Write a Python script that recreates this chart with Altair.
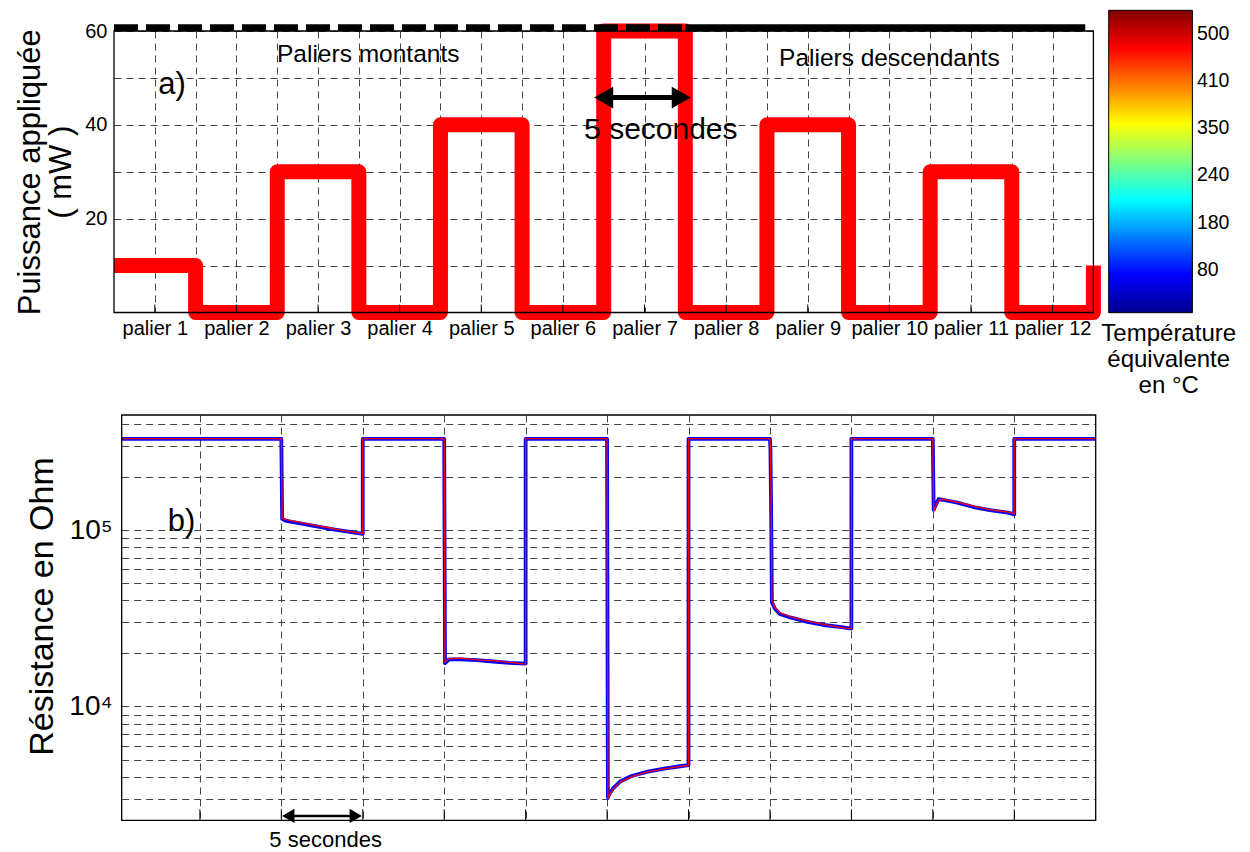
import altair as alt
import pandas as pd

FONT = "Liberation Sans"

# ---------------- data : panel a) ----------------
palier_labels = ["palier 1", "palier 2", "palier 3", "palier 4", "palier 5", "palier 6",
                 "palier 7", "palier 8", "palier 9", "palier 10", "palier 11", "palier 12"]
palier_power_mw = [10, 0, 30, 0, 40, 0, 60, 0, 40, 0, 30, 0]
final_power_mw = 10
palier_centers = [0.5, 1.5, 2.5, 3.5, 4.5, 5.5, 6.5, 7.5, 8.5, 9.5, 10.5, 11.5]
palier_grid = [0.5, 1, 1.5, 2, 2.5, 3, 3.5, 4, 4.5, 5, 5.5, 6, 6.5, 7, 7.5, 8, 8.5,
               9, 9.5, 10, 10.5, 11, 11.5]
power_grid = [10, 20, 30, 40, 50, 60]
power_labelled = [20, 40, 60]
top_xlim = [0, 12]
top_ylim = [0, 60]
cap_level_mw = 60.7
cap_dashed_span = [0, 7]
cap_solid_span = [7, 11.9]

# colour bar (jet) : positions in mW-equivalent, labels in degC
cbar_span = [0.8, 64.9]
cbar_tick_pos = [10, 20, 30, 40, 50, 60]
cbar_tick_labels = ["80", "180", "240", "350", "410", "500"]
jet_offsets = [0.0, 0.125, 0.375, 0.625, 0.875, 1.0]
jet_colors = ["#00008f", "#0000ff", "#00ffff", "#ffff00", "#ff0000", "#800000"]

# ---------------- data : panel b) ----------------
time_s = [0.2, 10.0, 10.05, 10.3, 11.0, 12.0, 13.0, 14.0, 15.0,
          15.0, 20.0, 20.05, 20.3, 21.0, 22.0, 23.0, 24.0, 25.0,
          25.0, 30.0, 30.05, 30.15, 30.4, 30.8, 31.5, 32.5, 33.5, 34.5, 35.0,
          35.0, 40.0, 40.03, 40.08, 40.12, 40.3, 40.6, 41.3, 42.3, 43.3, 44.4, 45.0,
          45.0, 50.0, 50.05, 50.35, 50.6, 51.5, 52.5, 53.5, 54.6, 55.0,
          55.0, 60.0]
r_blue = [330000, 330000, 116000, 113000, 110000, 106000, 102000, 98500, 95500,
          330000, 330000, 17600, 18500, 18500, 18350, 18000, 17700, 17500,
          330000, 330000, 3050, 3200, 3450, 3750, 4030, 4270, 4440, 4580, 4650,
          330000, 330000, 290000, 110000, 39000, 36000, 33500, 31900, 30200, 29000, 28200, 27700,
          330000, 330000, 131000, 150000, 149000, 143500, 135500, 130000, 126000, 123000,
          330000, 330000]
r_red = [331000, 331000, 118000, 115000, 111500, 107000, 103000, 99000, 96000,
         331000, 331000, 17800, 18700, 18800, 18400, 18200, 17800, 17400,
         331000, 331000, 3000, 3150, 3420, 3720, 4000, 4250, 4420, 4570, 4640,
         331000, 331000, 300000, 118000, 40000, 36500, 34000, 32300, 30500, 29200, 28000, 27600,
         331000, 331000, 129000, 148000, 150000, 144500, 137000, 131000, 127000, 124000,
         331000, 331000]
time_lim = [0.2, 60]
r_lim = [2260, 451000]
time_grid = [5, 10, 15, 20, 25, 30, 35, 40, 45, 50, 55]
r_grid = [3000, 4000, 5000, 6000, 7000, 8000, 9000,
          10000, 20000, 30000, 40000, 50000, 60000, 70000, 80000, 90000,
          100000, 200000, 300000, 400000]
r_labelled = {10000: "10⁴", 100000: "10⁵"}

# ---------------- panel a) ----------------
W1, H1 = 979.4, 281.5
GRID = dict(grid=True, gridDash=[7, 5], gridColor="#444", gridWidth=1)

step_x, step_p = [], []
for i, p in enumerate(palier_power_mw):
    step_x += [i, i + 1]
    step_p += [p, p]
step_x.append(len(palier_power_mw))
step_p.append(final_power_mw)
step_df = pd.DataFrame({"i": list(range(len(step_x))), "x": step_x, "p": step_p})

palier_expr = " : ".join(f"datum.value == {c} ? '{lab}'" for c, lab in zip(palier_centers, palier_labels)) + " : ''"
power_expr = " : ".join(f"datum.value == {v} ? '{v}'" for v in power_labelled) + " : ''"

xs1 = alt.Scale(domain=top_xlim, nice=False, zero=False)
ys1 = alt.Scale(domain=top_ylim, nice=False, zero=False)
xax1 = alt.Axis(values=palier_grid, ticks=False, domain=False, labelExpr=palier_expr,
                labelFontSize=20, labelPadding=6, labelAngle=0, labelOverlap=False,
                labelFlush=False, title=None, **GRID)
yax1 = alt.Axis(values=power_grid, ticks=False, domain=False, labelExpr=power_expr,
                labelFontSize=20, labelPadding=7, labelOverlap=False,
                title=["Puissance appliquée", "( mW )"], titleFontSize=31,
                titleLineHeight=31, titlePadding=7, **GRID)


def X1(field=None, datum=None):
    if datum is not None:
        return alt.X(datum=datum, type="quantitative", scale=xs1, axis=xax1)
    return alt.X(field, type="quantitative", scale=xs1, axis=xax1)


def Y1(field=None, datum=None):
    if datum is not None:
        return alt.Y(datum=datum, type="quantitative", scale=ys1, axis=yax1)
    return alt.Y(field, type="quantitative", scale=ys1, axis=yax1)


one = pd.DataFrame({"k": [0]})

steps = alt.Chart(step_df).mark_line(color="#ff0000", strokeWidth=15, strokeJoin="round",
                                     strokeCap="butt").encode(x=X1("x"), y=Y1("p"), order="i:Q")

cap_dashed = alt.Chart(pd.DataFrame({"x": [cap_dashed_span[0]], "x2": [cap_dashed_span[1]],
                                     "p": [cap_level_mw]})).mark_rule(
    color="black", strokeWidth=7, strokeDash=[24, 8], strokeCap="butt").encode(
    x=X1("x"), x2="x2:Q", y=Y1("p"))
cap_solid = alt.Chart(pd.DataFrame({"x": [cap_solid_span[0]], "x2": [cap_solid_span[1]],
                                    "p": [cap_level_mw]})).mark_rule(
    color="black", strokeWidth=7, strokeCap="butt").encode(x=X1("x"), x2="x2:Q", y=Y1("p"))

box1 = alt.Chart(pd.DataFrame({"x": [top_xlim[0]], "x2": [top_xlim[1]],
                               "p": [top_ylim[0]], "p2": [top_ylim[1]]})).mark_rect(
    filled=False, color="black", strokeWidth=1.3).encode(x=X1("x"), x2="x2:Q", y=Y1("p"), y2="p2:Q")

ticks1 = alt.Chart(pd.DataFrame({"x": palier_centers})).mark_rule(color="black", strokeWidth=1).encode(
    x=X1("x"), y=Y1(datum=top_ylim[0]), y2=alt.value(H1 - 8))


def txt1(s, x, y, size, align="center"):
    return alt.Chart(one).mark_text(text=s, font=FONT, fontSize=size, color="black",
                                    align=align, baseline="alphabetic").encode(
        x=X1(datum=x), y=Y1(datum=y))


lab_mont = txt1("Paliers montants", 3.115, 53.3, 24.5)
lab_desc = txt1("Paliers descendants", 9.5, 52.6, 24.5)
lab_a = txt1("a)", 0.71, 46.6, 31)
lab_5s = txt1("5 secondes", 6.70, 36.9, 30)

arrow_line = alt.Chart(one).mark_rule(color="black", strokeWidth=5).encode(
    x=X1(datum=6.0), x2=alt.X2(datum=6.95), y=Y1(datum=45.8))
arrow_l = alt.Chart(one).mark_point(shape="triangle-left", filled=True, size=480, color="black",
                                    opacity=1).encode(x=X1(datum=6.0), y=Y1(datum=45.8))
arrow_r = alt.Chart(one).mark_point(shape="triangle-right", filled=True, size=480, color="black",
                                    opacity=1).encode(x=X1(datum=6.95), y=Y1(datum=45.8))

cbar_title = alt.Chart(one).mark_text(text="Température\néquivalente\nen °C", lineBreak="\n",
                                      font=FONT, fontSize=24, lineHeight=26, color="black",
                                      align="center", baseline="alphabetic").encode(
    x=alt.value(1054.7), y=alt.value(310))

panel_a = alt.layer(steps, cap_dashed, cap_solid, ticks1, box1, lab_mont, lab_desc, lab_a,
                    lab_5s, arrow_line, arrow_l, arrow_r, cbar_title)

# colour bar as an independent layer
cbar_expr = " : ".join(f"datum.value == {p} ? '{l}'" for p, l in zip(cbar_tick_pos, cbar_tick_labels)) + " : ''"
jet = alt.Gradient(gradient="linear",
                   stops=[alt.GradientStop(color=c, offset=o) for o, c in zip(jet_offsets, jet_colors)],
                   x1=0, x2=0, y1=1, y2=0)
cb_df = pd.DataFrame({"c0": [0], "c1": [1], "v0": [cbar_span[0]], "v1": [cbar_span[1]]})
cbar = alt.Chart(cb_df).mark_rect(fill=jet, stroke="black", strokeWidth=1).encode(
    x=alt.X("c0:Q", scale=alt.Scale(domain=[0, 1], range=[994.7, 1078.4]), axis=None),
    x2="c1:Q",
    y=alt.Y("v0:Q", scale=alt.Scale(domain=cbar_span, range=[281.7, -20.7], nice=False, zero=False),
            axis=alt.Axis(orient="right", offset=99, values=cbar_tick_pos, labelExpr=cbar_expr,
                          ticks=False, domain=False, grid=False, title=None, labelFontSize=19.5,
                          labelPadding=4, labelOverlap=False)),
    y2="v1:Q")

top = alt.layer(panel_a, cbar).resolve_scale(x="independent", y="independent").properties(
    width=W1, height=H1)

# ---------------- panel b) ----------------
W2, H2 = 981.7, 405.3
xs2 = alt.Scale(domain=time_lim, range=[7.7, W2], nice=False, zero=False)
ys2 = alt.Scale(type="log", domain=r_lim, nice=False)
r_expr = " : ".join(f"datum.value == {v} ? '{l}'" for v, l in r_labelled.items()) + " : ''"
xax2 = alt.Axis(values=time_grid, labels=False, ticks=False, domain=False, title=None, **GRID)
yax2 = alt.Axis(values=r_grid, ticks=False, domain=False, labelExpr=r_expr, labelFontSize=28,
                labelPadding=2, labelOverlap=False, title="Résistance en Ohm", titleFontSize=34,
                titlePadding=9, titleY=191, **GRID)


def X2(field=None, datum=None):
    if datum is not None:
        return alt.X(datum=datum, type="quantitative", scale=xs2, axis=xax2)
    return alt.X(field, type="quantitative", scale=xs2, axis=xax2)


def Y2(field=None, datum=None):
    if datum is not None:
        return alt.Y(datum=datum, type="quantitative", scale=ys2, axis=yax2)
    return alt.Y(field, type="quantitative", scale=ys2, axis=yax2)


res_df = pd.DataFrame({"i": list(range(len(time_s))), "t": time_s, "blue": r_blue, "red": r_red})
blue_line = alt.Chart(res_df).mark_line(color="#0000ff", strokeWidth=3.8, strokeJoin="round").encode(
    x=X2("t"), y=Y2("blue"), order="i:Q")
red_line = alt.Chart(res_df).mark_line(color="#ff0000", strokeWidth=1.3, strokeJoin="round").encode(
    x=X2("t"), y=Y2("red"), order="i:Q")

box2 = alt.Chart(pd.DataFrame({"t": [time_lim[0]], "t2": [time_lim[1]],
                               "r": [r_lim[0]], "r2": [r_lim[1]]})).mark_rect(
    filled=False, color="black", strokeWidth=1.3).encode(x=X2("t"), x2="t2:Q", y=Y2("r"), y2="r2:Q")
ticks2 = alt.Chart(pd.DataFrame({"t": time_grid})).mark_rule(color="black", strokeWidth=1).encode(
    x=X2("t"), y=Y2(datum=r_lim[0]), y2=alt.value(H2 - 11))


def txt2(s, x, y, size):
    return alt.Chart(one).mark_text(text=s, font=FONT, fontSize=size, color="black",
                                    align="center", baseline="alphabetic").encode(
        x=X2(datum=x), y=Y2(datum=y))


lab_b = txt2("b)", 3.88, 99100, 31)
lab_5s_b = txt2("5 secondes", 12.72, 1600, 22)
arrow2_line = alt.Chart(one).mark_rule(color="black", strokeWidth=2.5).encode(
    x=X2(datum=10.4), x2=alt.X2(datum=14.6), y=Y2(datum=2393))
arrow2_l = alt.Chart(one).mark_point(shape="triangle-left", filled=True, size=200, color="black",
                                     opacity=1).encode(x=X2(datum=10.43), y=Y2(datum=2393))
arrow2_r = alt.Chart(one).mark_point(shape="triangle-right", filled=True, size=200, color="black",
                                     opacity=1).encode(x=X2(datum=14.57), y=Y2(datum=2393))

bottom = alt.layer(blue_line, red_line, ticks2, box2, lab_b, lab_5s_b, arrow2_line, arrow2_l,
                   arrow2_r).properties(width=W2, height=H2)

chart = alt.vconcat(top, bottom, spacing=12).properties(
    padding={"left": 6, "top": 1, "right": 0, "bottom": 0}
).configure_view(stroke=None).configure_axis(
    labelFont=FONT, titleFont=FONT, labelColor="black", titleColor="black",
    titleFontWeight="normal"
)

chart.save("out.html", embed_options={"renderer": "svg", "actions": False})
